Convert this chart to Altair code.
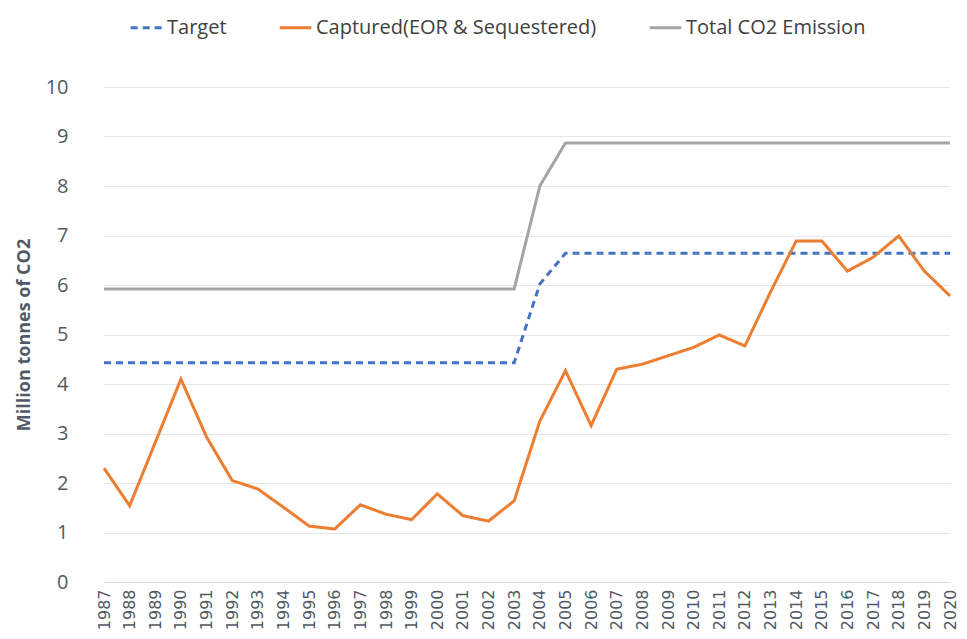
import altair as alt
import pandas as pd

years = [str(y) for y in range(1987, 2021)]

target = [4.43] * 17 + [6.02] + [6.64] * 16
captured = [2.30, 1.54, 2.82, 4.10, 2.93, 2.05, 1.88, 1.51, 1.13, 1.07,
            1.56, 1.37, 1.26, 1.78, 1.34, 1.23, 1.64, 3.25, 4.27, 3.16,
            4.30, 4.40, 4.57, 4.74, 4.99, 4.77, 5.86, 6.89, 6.89, 6.28,
            6.56, 6.99, 6.28, 5.78]
total = [5.92] * 17 + [8.00] + [8.87] * 16

series_names = ["Target", "Captured(EOR & Sequestered)", "Total CO2 Emission"]
series_values = [target, captured, total]
series_colors = ["#4472C4", "#ED7D31", "#A5A5A5"]
series_dash = [[7, 5], [1, 0], [1, 0]]

rows = []
for name, vals in zip(series_names, series_values):
    for y, v in zip(years, vals):
        rows.append({"Year": y, "Value": v, "Series": name})
df = pd.DataFrame(rows)

axis_color = "#505a66"

chart = alt.Chart(df).mark_line(strokeWidth=3).encode(
    x=alt.X("Year:O", sort=years, title=None,
            scale=alt.Scale(type="point", padding=0, range=[16, 862]),
            axis=alt.Axis(labelAngle=-90, labelFont="DejaVu Sans", labelFontSize=16,
                          labelColor=axis_color, ticks=False, domainColor="#d9d9d9",
                          grid=False, labelPadding=7, labelBaseline="middle",
                          labelAlign="right")),
    y=alt.Y("Value:Q", title="Million tonnes of CO2",
            scale=alt.Scale(domain=[0, 10], nice=False),
            axis=alt.Axis(values=list(range(0, 11)), labelFont="Open Sans", labelFontSize=20,
                          labelColor=axis_color, ticks=False, domain=False,
                          gridColor="#e6e6e6", gridWidth=1, labelPadding=20,
                          titleFont="Open Sans", titleFontSize=18, titleFontWeight="bold",
                          titleColor=axis_color, titlePadding=12)),
    color=alt.Color("Series:N", sort=series_names,
                    scale=alt.Scale(domain=series_names, range=series_colors),
                    legend=alt.Legend(title=None, orient="none", direction="horizontal",
                                      legendX=41, legendY=-77, symbolType="stroke",
                                      symbolSize=1000, symbolStrokeWidth=3,
                                      labelFont="Open Sans", labelFontSize=20,
                                      labelColor="#404040", columnPadding=46,
                                      labelOffset=3, labelLimit=0)),
    strokeDash=alt.StrokeDash("Series:N", sort=series_names,
                              scale=alt.Scale(domain=series_names, range=series_dash),
                              legend=None),
).properties(
    width=871, height=495,
    background="white",
    autosize=alt.AutoSizeParams(type="none"),
    padding={"left": 80, "top": 79, "right": 0, "bottom": 48},
).configure_view(stroke=None)

chart.save("out.html", embed_options={"renderer": "svg", "actions": False})
